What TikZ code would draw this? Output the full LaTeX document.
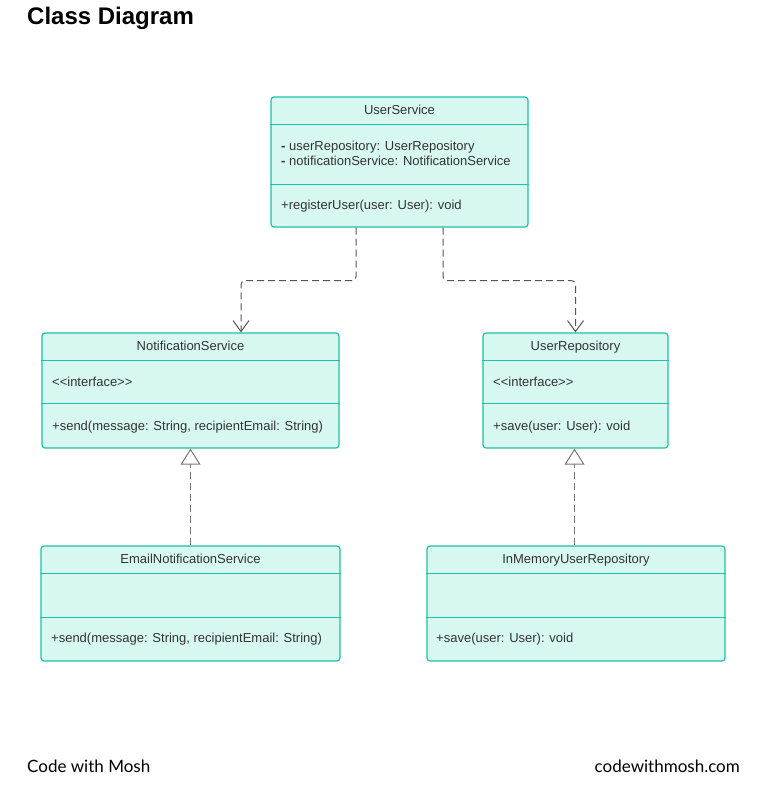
\documentclass[tikz,border=0pt]{standalone}
\usepackage{fontspec}
\setmainfont{Liberation Sans}
\newfontfamily\footfont{Lato}
\usetikzlibrary{arrows.meta, positioning, calc}
\definecolor{UMLTeal}{HTML}{1EC2A6}
\definecolor{UMLMint}{HTML}{D7F8F1}
\definecolor{UMLText}{HTML}{333333}
\definecolor{UMLLine}{HTML}{555555}

\begin{document}
\begin{tikzpicture}[
    x=1pt, y=-1pt,
    font=\fontsize{13}{15}\selectfont,
    % boxes and compartments
    classbox/.style={draw=UMLTeal, fill=UMLMint, line width=1.2pt,
        rounded corners=3pt, inner sep=0pt},
    divider/.style={draw=UMLTeal, line width=1pt},
    classname/.style={inner sep=0pt, text=UMLText, text height=0.72em, text depth=0.22em},
    member/.style={anchor=west, inner sep=0pt, text=UMLText, text height=0.72em, text depth=0.22em},
    % connectors
    depends/.style={draw=UMLLine, line width=1pt, dash pattern=on 7pt off 4pt,
        rounded corners=4pt, -{Straight Barb[length=11pt, width=16pt]}},
    realizes/.style={draw=UMLLine!80, line width=1pt, dash pattern=on 7pt off 4pt,
        -{Triangle[open, length=16pt, width=20pt, fill=white]}}
]
    \useasboundingbox (0,0) rectangle (781,787);

    % ====== title ======
    \node[anchor=west, inner sep=0pt, font=\fontsize{24}{28}\selectfont\bfseries] (title) at (27,18) {Class Diagram};

    % ====== UserService ======
    \node[classbox, minimum width=257pt, minimum height=130pt] (us) at (399.5,162) {};
    \draw[divider] ([yshift=-28pt]us.north west) -- ([yshift=-28pt]us.north east);
    \draw[divider] ([yshift=-88pt]us.north west) -- ([yshift=-88pt]us.north east);
    \node[classname] (us-name) at (399.5,112) {UserService};
    \node[member] (us-a1) at (281,148) {\textbf{-} userRepository: UserRepository};
    \node[member] (us-a2) at (281,163) {\textbf{-} notificationService: NotificationService};
    \node[member] (us-m1) at (281,207) {+registerUser(user: User): void};

    % ====== NotificationService ======
    \node[classbox, minimum width=297pt, minimum height=115pt] (ns) at (190.5,390.5) {};
    \draw[divider] ([yshift=-28pt]ns.north west) -- ([yshift=-28pt]ns.north east);
    \draw[divider] ([yshift=-71pt]ns.north west) -- ([yshift=-71pt]ns.north east);
    \node[classname] (ns-name) at (190.5,348) {NotificationService};
    \node[member] (ns-s1) at (52,384) {<{}<interface>{}>};
    \node[member] (ns-m1) at (52,428) {+send(message: String, recipientEmail: String)};

    % ====== UserRepository ======
    \node[classbox, minimum width=185pt, minimum height=115pt] (ur) at (575.5,390.5) {};
    \draw[divider] ([yshift=-28pt]ur.north west) -- ([yshift=-28pt]ur.north east);
    \draw[divider] ([yshift=-71pt]ur.north west) -- ([yshift=-71pt]ur.north east);
    \node[classname] (ur-name) at (575.5,348) {UserRepository};
    \node[member] (ur-s1) at (493,384) {<{}<interface>{}>};
    \node[member] (ur-m1) at (493,428) {+save(user: User): void};

    % ====== EmailNotificationService ======
    \node[classbox, minimum width=299pt, minimum height=115pt] (ens) at (190.5,603.5) {};
    \draw[divider] ([yshift=-28pt]ens.north west) -- ([yshift=-28pt]ens.north east);
    \draw[divider] ([yshift=-72pt]ens.north west) -- ([yshift=-72pt]ens.north east);
    \node[classname] (ens-name) at (190.5,561) {EmailNotificationService};
    \node[member] (ens-m1) at (51,640) {+send(message: String, recipientEmail: String)};

    % ====== InMemoryUserRepository ======
    \node[classbox, minimum width=298pt, minimum height=115pt] (imr) at (576,603.5) {};
    \draw[divider] ([yshift=-28pt]imr.north west) -- ([yshift=-28pt]imr.north east);
    \draw[divider] ([yshift=-72pt]imr.north west) -- ([yshift=-72pt]imr.north east);
    \node[classname] (imr-name) at (576,561) {InMemoryUserRepository};
    \node[member] (imr-m1) at (436,640) {+save(user: User): void};

    % ====== connectors ======
    \draw[depends] ([xshift=-43.5pt]us.south) -- ++(0,53) -| ([xshift=50.5pt]ns.north);
    \draw[depends] ([xshift=43.5pt]us.south) -- ++(0,53) -| (ur.north);
    \draw[realizes] (ens.north) -- (ns.south);
    \draw[realizes] ([xshift=-1.5pt]imr.north) -- ([xshift=-1.5pt]imr.north |- ur.south);

    % ====== footer ======
    \node[anchor=west, inner sep=0pt, font=\footfont\fontsize{17}{20}\selectfont] (foot-l) at (27,766) {Code with Mosh};
    \node[anchor=east, inner sep=0pt, font=\footfont\fontsize{17}{20}\selectfont] (foot-r) at (740,766) {codewithmosh.com};
\end{tikzpicture}
\end{document}
